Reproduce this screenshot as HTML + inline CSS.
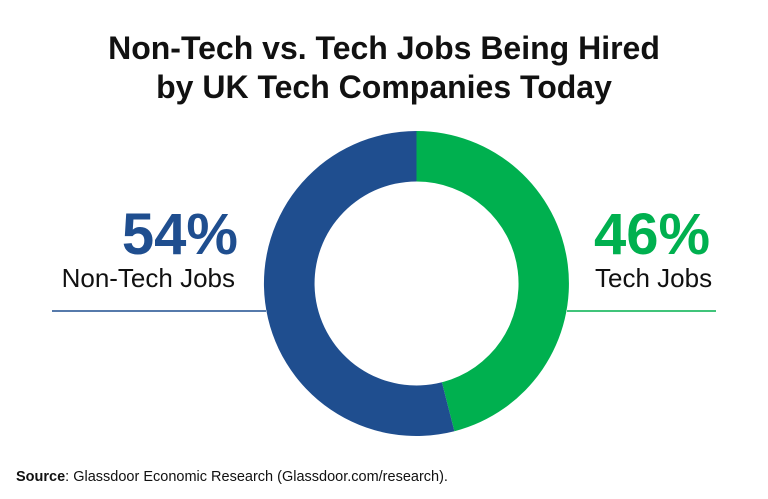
<!DOCTYPE html>
<html><head><style>
body{margin:0;background:#fff;}
svg{display:block;font-family:"Liberation Sans",sans-serif;}
</style></head><body>
<svg width="768" height="499" viewBox="0 0 768 499">
<text x="384" y="59" text-anchor="middle" font-size="32" font-weight="bold" fill="#111">Non-Tech vs. Tech Jobs Being Hired</text>
<text x="384" y="98" text-anchor="middle" font-size="32" font-weight="bold" fill="#111">by UK Tech Companies Today</text>
<line x1="52" y1="311" x2="266" y2="311" stroke="#1f4e8f" stroke-width="1.5"/>
<line x1="567" y1="311" x2="716" y2="311" stroke="#00b04f" stroke-width="1.5"/>
<path d="M416.5 131 A152.5 152.5 0 0 1 454.4 431.2 L441.9 382.3 A102 102 0 0 0 416.5 181.5 Z" fill="#00b04f"/>
<path d="M454.4 431.2 A152.5 152.5 0 1 1 416.5 131 L416.5 181.5 A102 102 0 1 0 441.9 382.3 Z" fill="#1f4e8f"/>
<text x="238" y="254" text-anchor="end" font-size="58" font-weight="bold" fill="#1f4e8f">54%</text>
<text x="235" y="287" text-anchor="end" font-size="26" fill="#111">Non-Tech Jobs</text>
<text x="594" y="254" font-size="58" font-weight="bold" fill="#00b04f">46%</text>
<text x="595" y="287" font-size="26" fill="#111">Tech Jobs</text>
<text x="16" y="481" font-size="14.5" fill="#111"><tspan font-weight="bold">Source</tspan>: Glassdoor Economic Research (Glassdoor.com/research).</text>
</svg>
</body></html>
